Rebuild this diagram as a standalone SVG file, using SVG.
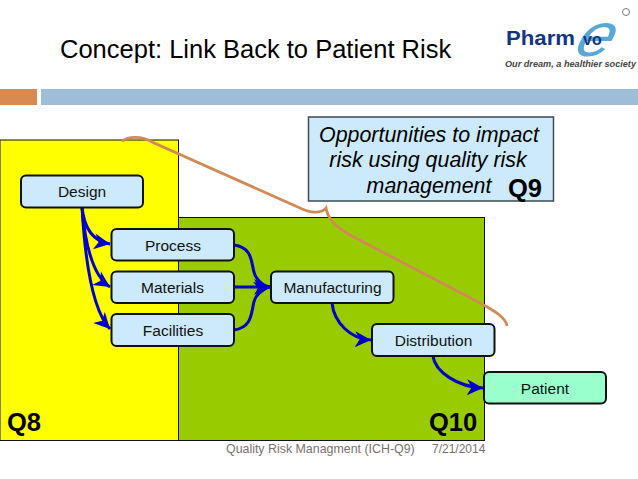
<svg xmlns="http://www.w3.org/2000/svg" width="638" height="479" viewBox="0 0 638 479">
<style>
text{font-family:"Liberation Sans",Arial,sans-serif}
.n{fill:#cceafb;stroke:#111;stroke-width:2}
.l{font-size:15.5px;fill:#111;text-anchor:middle}
.c{fill:none;stroke:#0000c8;stroke-width:3;marker-end:url(#a)}
.q{font-size:25.5px;font-weight:bold;fill:#000}
.o{font-size:21.4px;font-style:italic;fill:#000;text-anchor:middle}
.f{font-size:12.400px;fill:#7a7070}
</style>
<defs>
<marker id="a" markerUnits="userSpaceOnUse" markerWidth="18" markerHeight="16" refX="14" refY="7" orient="auto" viewBox="0 0 15 14"><path d="M0 0L14 7L0 14L4 7Z" fill="#0000c8"/></marker>
</defs>
<rect width="638" height="479" fill="#fff"/>
<text x="60" y="58" font-size="25.500" fill="#000">Concept: Link Back to Patient Risk</text>
<g id="logo">
<text transform="translate(572,56) skewX(-22) scale(1.6,1.5)" font-size="41" font-style="italic" font-family="Liberation Serif,serif" fill="#5aa6d6">e</text>
<text x="506" y="45" font-size="20" font-weight="bold" fill="#14357f" textLength="69" lengthAdjust="spacingAndGlyphs">Pharm</text>
<text x="583" y="45" font-size="16" font-weight="bold" fill="#14357f">vo</text>
<circle cx="626" cy="12" r="3.500" fill="none" stroke="#777"/>
<text x="505" y="67" font-size="9" font-family="Liberation Serif,serif" font-style="italic" font-weight="bold" fill="#444" textLength="131" lengthAdjust="spacingAndGlyphs">Our dream, a healthier society</text>
</g>
<rect x="0" y="89" width="37" height="16" fill="#d98a50"/>
<rect x="41" y="89" width="597" height="16" fill="#9dbdd8"/>
<rect id="q8-zone" x="0" y="140" width="178.500" height="300.500" fill="#ffff00" stroke="#111" stroke-width="1"/>
<rect id="q10-zone" x="178.500" y="217.500" width="306" height="223" fill="#99cc00" stroke="#111" stroke-width="1"/>
<text x="7" y="431" class="q">Q8</text>
<text x="429" y="431" class="q">Q10</text>
<g id="q9-box">
<rect x="308.500" y="117" width="245" height="84" fill="#cceafb" stroke="#3d4a55" stroke-width="1.500"/>
<text x="429" y="142" class="o">Opportunities to impact</text>
<text x="428" y="167" class="o">risk using quality risk</text>
<text x="429" y="193" class="o">management</text>
<text x="508" y="197" class="q">Q9</text>
</g>
<g id="connectors">
<path class="c" d="M82 207C84 228 92 241 110 244"/>
<path class="c" d="M82 207C85 244 93 276 110 287"/>
<path class="c" d="M82 207C85 260 92 310 110 329"/>
<path class="c" d="M234 245C256 248 250 268 256 277C260 283 264 286 270 287" style="marker-end:none"/>
<path class="c" d="M234 287H270"/>
<path class="c" d="M234 330C256 327 250 306 256 297C260 291 264 288 270 287"/>
<path class="c" d="M332 303C334 322 350 339 371 340"/>
<path class="c" d="M433 356C435 372 458 387 483 388"/>
<path d="M122 141.500C128 136 142 136 152 142L300 208C312 214 322 213 326 208C327 215 332 225 350 235L480 303C495 311 506 318 507 326" fill="none" stroke="#d08a55" stroke-width="2.800"/>
</g>
<g id="design"><rect class="n" x="21" y="175.500" width="122" height="32" rx="5"/><text class="l" x="82" y="197">Design</text></g>
<g id="process"><rect class="n" x="111.500" y="229" width="122.500" height="31.500" rx="5"/><text class="l" x="173" y="250.500">Process</text></g>
<g id="materials"><rect class="n" x="111.500" y="271.500" width="122.500" height="31.500" rx="5"/><text class="l" x="172.500" y="293">Materials</text></g>
<g id="facilities"><rect class="n" x="111.500" y="314" width="122.500" height="32" rx="5"/><text class="l" x="173" y="335.500">Facilities</text></g>
<g id="manufacturing"><rect class="n" x="271" y="271.500" width="122.500" height="31.500" rx="5"/><text class="l" x="332.500" y="293">Manufacturing</text></g>
<g id="distribution"><rect class="n" x="372" y="324" width="122.500" height="32" rx="5"/><text class="l" x="433.500" y="346">Distribution</text></g>
<g id="patient"><rect x="484" y="372" width="122" height="31.500" rx="5" fill="#99ffcc" stroke="#111" stroke-width="2"/><text class="l" x="545" y="393.500">Patient</text></g>
<text x="226" y="453" class="f">Quality Risk Managment (ICH-Q9)</text>
<text x="432" y="453" class="f" style="font-size:12px">7/21/2014</text>
</svg>
